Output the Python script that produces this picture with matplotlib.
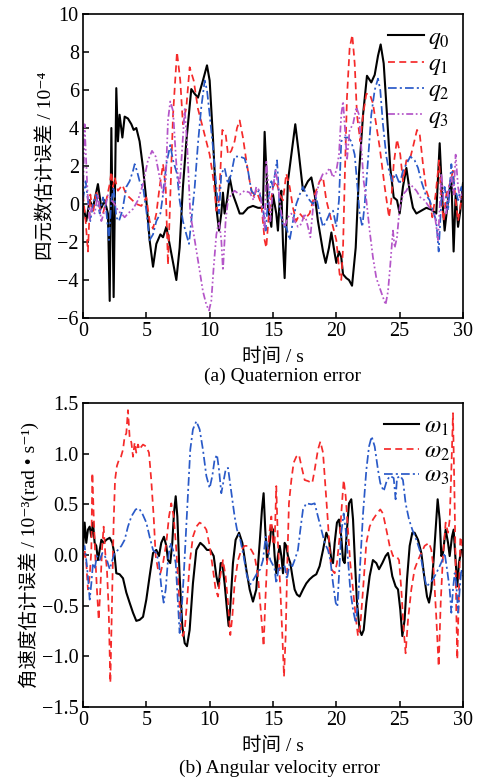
import matplotlib
matplotlib.use('Agg')
import matplotlib.pyplot as plt

plt.rcParams['font.family'] = ['Liberation Serif', 'Noto Sans CJK SC', 'DejaVu Serif']
plt.rcParams['mathtext.fontset'] = 'stix'
plt.rcParams['axes.unicode_minus'] = True

# ---- quaternion error (x1e-4) ----
q0_t = [0, 0.26, 0.53, 0.79, 1.18, 1.45, 1.71, 1.97, 2.11, 2.24, 2.42, 2.63, 2.76, 2.89, 3.11, 3.29, 3.55, 3.82, 4.0, 4.21,
        4.47, 4.74, 5.0, 5.26, 5.53, 5.79, 6.11, 6.32, 6.58, 6.89, 7.37, 7.63, 7.89, 8.16, 8.55, 8.82, 9.08, 9.47, 9.79, 10.0,
        10.26, 10.53, 10.74, 10.92, 11.05, 11.18, 11.37, 11.58, 11.84, 12.11, 12.37, 12.63, 13.03, 13.42, 13.82, 14.21, 14.34,
        14.61, 14.87, 15.0, 15.26, 15.39, 15.53, 15.66, 15.79, 15.92, 16.18, 16.45, 16.76, 17.05, 17.37, 17.76, 18.03, 18.29,
        18.55, 18.95, 19.16, 19.42, 19.61, 19.87, 20.0, 20.21, 20.39, 20.53, 20.79, 21.0, 21.24, 21.53, 21.79, 22.11, 22.42,
        22.76, 23.03, 23.29, 23.5, 23.74, 24.0, 24.26, 24.53, 24.79, 25.0, 25.26, 25.53, 25.79, 26.05, 26.32, 26.71, 27.11,
        27.5, 27.89, 28.16, 28.37, 28.55, 28.82, 29.08, 29.26, 29.42, 29.61, 29.79, 30.0]
q0_v = [0, -0.9, 0.2, -0.2, 1.05, -0.2, 0.2, -0.5, -5.1, 4.0, -4.9, 6.1, 3.3, 4.7, 3.5, 4.6, 4.5, 4.2, 3.9, 4.0,
        3.3, 1.9, 0.2, -1.9, -3.3, -2.1, -1.6, -1.75, -1.2, -2.3, -4.0, -2.3, 0.9, 3.3, 6.05, 5.8, 5.6, 6.5, 7.3, 6.5,
        3.5, -0.2, -1.4, -0.5, 0.6, -0.5, 0.2, 1.4, 0.5, 0, -0.5, -0.5, -0.2, -0.1, -0.2, -0.2, 3.8,
        -0.2, -1.2, 0.5, -0.5, -1.4, 0.2, 0.7, -2.1, -3.9, 1.2, 2.6, 4.2, 2.6, 0.7, 1.2, 1.4, 0.5,
        -0.9, -2.5, -3.1, -2.3, -1.5, -2.6, -3.1, -2.5, -2.8, -3.7, -3.9, -4.0, -4.3, -2.3, 1.6, 4.7, 6.75,
        6.4, 6.8, 7.8, 8.4, 7.4, 4.7, 1.9, 0.35, 0.2, -0.5, 0.9, 1.9, 0.7, -0.2, -0.5, -0.35, -0.2,
        -0.3, -0.5, 3.2, 0.2, -1.4, 0.2, 1.4, -2.5, 0.5, -1.2, -0.35, 1.1]

q1_t = [0, 0.21, 0.39, 0.58, 0.79, 1.05, 1.32, 1.58, 1.84, 2.11, 2.24, 2.37, 2.5, 2.76, 3.11, 3.42, 3.82, 4.21, 4.61, 5.0,
        5.26, 5.53, 5.79, 6.05, 6.32, 6.53, 6.71, 6.89, 7.11, 7.42, 7.68, 7.89, 8.16, 8.42, 8.74, 9.08, 9.47, 10.0, 10.32,
        10.53, 10.74, 11.0, 11.26, 11.45, 11.71, 11.97, 12.16, 12.37, 12.63, 12.89, 13.16, 13.42, 13.68, 14.08, 14.34, 14.47,
        14.68, 15.0, 15.26, 15.53, 15.79, 16.05, 16.32, 16.58, 16.84, 17.11, 17.5, 17.89, 18.29, 18.68, 18.95, 19.21, 19.47,
        19.74, 20.0, 20.26, 20.39, 20.53, 20.66, 20.84, 21.05, 21.26, 21.45, 21.63, 21.89, 22.11, 22.37, 22.63, 22.89, 23.21,
        23.42, 23.82, 24.16, 24.34, 24.53, 24.79, 25.05, 25.26, 25.53, 25.79, 26.05, 26.37, 26.58, 26.84, 27.11, 27.37, 27.58,
        27.84, 28.11, 28.29, 28.47, 28.68, 28.95, 29.21, 29.42, 29.61, 29.87, 30.0]
q1_v = [0.5, -0.9, -2.5, 0.5, -0.5, 0.7, -0.2, -0.5, 0.2, 1.05, 1.7, 0.9, 1.4, 0.7, 1.0, 0.5, 0.25, 0, -0.1, 0.35,
        -0.9, -1.3, -0.5, 0.9, 2.1, 0.9, -3.2, 0.35, 4.7, 8.0, 6.5, 4.2, 5.1, 7.2, 6.5, 5.0, 4.0, 2.6, 1.2,
        -0.35, 0.2, 3.9, 3.7, 2.6, 2.8, 3.3, 4.0, 4.4, 3.5, 2.3, 1.2, 0.35, 0.7, 0, -1.9, -2.3,
        -0.5, 0.9, 1.2, 0.5, 0.2, 1.6, 0.9, -0.2, -0.9, -0.5, -0.8, -0.5, 0.5, 1.2, 1.4, 0.2, -0.5,
        -1.2, -1.9, -3.7, -4.0, -2.3, 1.2, 5.6, 8.2, 8.9, 7.4, 4.7, 3.3, 4.7, 5.8, 5.8, 5.3, 3.9,
        3.0, 0.9, -0.7, 0.2, 2.1, 3.4, 2.6, 1.2, 2.3, 2.3, 3.0, 3.9, 3.7, 2.1, 0.7, 0.2, -0.7,
        0.5, 2.3, 0.2, -0.9, 0.5, 1.05, 1.75, 0.2, -0.9, 0.2, 0.5]

q2_t = [0, 0.21, 0.39, 0.58, 0.79, 1.05, 1.32, 1.58, 1.84, 2.05, 2.24, 2.42, 2.63, 2.84, 3.11, 3.42, 3.68, 3.95, 4.08, 4.26,
        4.47, 4.74, 5.0, 5.26, 5.53, 5.79, 6.11, 6.32, 6.58, 6.89, 7.11, 7.42, 7.63, 7.89, 8.16, 8.37, 8.55, 8.82, 9.08, 9.34,
        9.61, 9.79, 10.0, 10.26, 10.53, 10.74, 10.92, 11.18, 11.45, 11.71, 11.97, 12.37, 12.76, 13.03, 13.29, 13.55, 13.89,
        14.21, 14.42, 14.61, 14.87, 15.0, 15.32, 15.53, 15.79, 16.05, 16.32, 16.58, 16.84, 17.11, 17.37, 17.63, 17.89, 18.16,
        18.42, 18.68, 18.95, 19.21, 19.47, 19.74, 20.0, 20.21, 20.39, 20.66, 20.92, 21.18, 21.45, 21.63, 21.84, 22.05, 22.24,
        22.5, 22.76, 23.03, 23.29, 23.47, 23.68, 23.95, 24.16, 24.42, 24.68, 25.0, 25.26, 25.53, 25.84, 26.18, 26.45, 26.71,
        27.05, 27.37, 27.63, 27.89, 28.08, 28.29, 28.55, 28.82, 29.08, 29.34, 29.61, 29.87, 30.0]
q2_v = [0.2, 1.2, 0.2, -0.9, 0, 0.5, -0.5, 0.35, -0.35, -1.9, 0.2, 0.9, -0.7, -0.9, -0.35, 0.9, 1.2, 1.75, 2.1, 1.75,
        1.2, 0.9, -0.35, -1.9, -1.6, -0.9, -0.5, 0.5, 2.1, 3.1, 2.3, 1.6, 0.2, -0.9, -1.6, -2.1, -0.9, 0.9, 3.2, 5.1,
        6.5, 6.0, 4.7, 3.0, 0.9, -0.5, 1.6, 1.9, 1.05, 1.6, 2.5, 2.5, 2.4, 1.75, 0.7, 0.5, 0.7,
        -0.2, -1.4, 0.2, 1.2, 0.9, 2.3, -0.2, -1.2, -1.2, -1.9, -0.9, 0, 0.5, 0.9, 0.5, 0.2, 0,
        0.35, -0.5, -1.2, -0.9, -0.5, -0.35, -1.2, 0.2, 3.3, 3.5, 3.5, 3.3, 2.6, 1.2, -0.5, -1.2, 0,
        2.3, 4.7, 6.0, 6.6, 6.0, 4.2, 2.5, 1.75, 1.2, 1.6, 1.05, 1.75, 2.1, 2.5, 2.3, 1.9, 1.2,
        0.5, 0.2, -0.35, -0.9, -2.5, 0.2, 0.9, -0.35, 2.1, 0.9, 0.2, 0.9, 0.5]

q3_t = [0, 0.13, 0.26, 0.39, 0.53, 0.66, 0.92, 1.18, 1.45, 1.71, 1.97, 2.24, 2.5, 2.76, 3.03, 3.29, 3.55, 3.95, 4.34, 4.74,
        5.13, 5.45, 5.74, 6.05, 6.32, 6.53, 6.71, 6.89, 7.11, 7.37, 7.63, 7.84, 8.03, 8.21, 8.47, 8.82, 9.16, 9.47, 9.74, 9.95,
        10.13, 10.32, 10.53, 10.74, 10.92, 11.05, 11.26, 11.45, 11.71, 11.97, 12.37, 12.76, 13.16, 13.47, 13.68, 13.95, 14.21,
        14.34, 14.47, 14.61, 14.79, 15.0, 15.21, 15.39, 15.66, 15.92, 16.18, 16.45, 16.71, 16.97, 17.24, 17.5, 17.76, 17.95,
        18.16, 18.42, 18.68, 18.95, 19.21, 19.47, 19.74, 20.0, 20.21, 20.39, 20.53, 20.66, 20.84, 21.05, 21.32, 21.58, 21.79,
        21.97, 22.16, 22.37, 22.63, 22.89, 23.16, 23.42, 23.68, 23.89, 24.08, 24.26, 24.47, 24.61, 24.79, 25.0, 25.26, 25.53,
        25.79, 26.05, 26.32, 26.63, 26.97, 27.37, 27.76, 28.03, 28.16, 28.29, 28.47, 28.68, 28.89, 29.08, 29.26, 29.42, 29.61,
        29.79, 30.0]
q3_v = [0.2, 4.2, 2.1, 0.2, -0.9, -0.2, -0.5, 0.5, -0.9, -0.35, 0.5, 0.2, 0, -0.35, -0.5, -0.7, -0.5, -0.26, 0.2, 1.05,
        2.3, 2.8, 2.5, 1.4, 0.5, 1.2, 4.4, 5.4, 4.9, 2.1, 0.9, 3.0, 5.0, 3.3, -0.5, -1.9, -3.3, -4.6, -5.3, -5.6,
        -5.1, -3.3, -1.6, -0.9, -1.9, -3.5, -0.9, 0.2, 0.5, 0.7, 0.5, 0.7, 0.6, 0.2, 0.9, 0.7, -0.5,
        -1.4, 2.3, 1.2, -0.9, 0.9, 1.75, 1.05, -0.5, -1.2, -0.7, -0.5, -0.9, -1.2, -1.05, -0.5, -1.2, -1.75,
        -0.2, 0.5, 1.2, 1.6, 1.6, 1.9, 1.4, 1.75, 2.6, 4.7, 5.4, 4.2, 2.3, 3.9, 4.2, 5.1, 4.7,
        3.0, 1.2, 0.2, -1.4, -2.8, -3.9, -4.4, -4.9, -5.3, -4.6, -3.2, -1.4, -2.3, -1.75, -0.2, 0.5, 0.7,
        1.05, 0.9, 0.7, 0.35, 0.2, -0.2, -0.5, -1.9, -0.2, 1.6, 0.2, -0.5, 0.9, 1.4, 0.5, 2.6, 0.9,
        0.2, 0.7]

# ---- angular velocity error (x1e-3 rad/s) ----
w1_t = [0, 0.13, 0.26, 0.39, 0.53, 0.66, 0.79, 0.92, 1.05, 1.18, 1.32, 1.45, 1.63, 1.84, 2.11, 2.32, 2.5, 2.63, 2.89, 3.16,
        3.42, 3.68, 3.95, 4.21, 4.47, 4.74, 5.0, 5.26, 5.53, 5.79, 6.0, 6.18, 6.39, 6.58, 6.71, 6.89, 7.05, 7.18, 7.32, 7.45,
        7.63, 7.84, 8.03, 8.21, 8.42, 8.68, 8.95, 9.26, 9.53, 9.79, 10.05, 10.32, 10.53, 10.71, 10.87, 11.0, 11.18, 11.37, 11.5,
        11.63, 11.84, 12.05, 12.32, 12.58, 12.89, 13.16, 13.42, 13.68, 13.95, 14.13, 14.26, 14.39, 14.53, 14.74, 14.87, 15.0,
        15.13, 15.26, 15.39, 15.53, 15.66, 15.79, 15.92, 16.05, 16.18, 16.37, 16.53, 16.71, 16.89, 17.1, 17.37, 17.63, 17.89,
        18.16, 18.42, 18.68, 18.95, 19.21, 19.42, 19.61, 19.74, 19.87, 20.05, 20.21, 20.39, 20.53, 20.66, 20.84, 21.0, 21.18,
        21.32, 21.45, 21.63, 21.84, 22.0, 22.16, 22.37, 22.63, 22.89, 23.16, 23.37, 23.63, 23.89, 24.08, 24.21, 24.42, 24.68,
        24.87, 25.05, 25.21, 25.39, 25.58, 25.79, 26.0, 26.18, 26.45, 26.71, 26.97, 27.16, 27.32, 27.5, 27.68, 27.84, 28.0,
        28.16, 28.29, 28.42, 28.63, 28.82, 28.95, 29.13, 29.26, 29.42, 29.55, 29.68, 29.87, 30.0]
w1_v = [0.05, 0.32, 0.12, 0.25, 0.28, 0.18, 0.32, 0.12, 0.09, -0.05, 0.05, 0.15, 0.12, 0.15, 0.17, 0.12, -0.01, -0.18, -0.19, -0.23,
        -0.37, -0.47, -0.57, -0.65, -0.64, -0.61, -0.44, -0.21, 0.02, 0.05, -0.01, 0.12, 0.18, 0.09, -0.05, -0.08, 0.12, 0.41, 0.58, 0.38,
        -0.21, -0.7, -0.87, -0.9, -0.74, -0.28, 0.05, 0.12, 0.09, 0.05, 0.05, -0.01, -0.21, -0.31, -0.08, -0.08, -0.28, -0.54, -0.7,
        -0.51, -0.08, 0.15, 0.22, 0.12, -0.14, -0.34, -0.46, -0.34, 0.12, 0.45, 0.61, 0.25, -0.05, 0.12, 0.28, 0.25,
        -0.01, -0.18, -0.01, 0.09, -0.01, -0.18, 0.12, 0.09, -0.01, -0.08, -0.21, -0.34, -0.39, -0.41, -0.34, -0.28, -0.24,
        -0.21, -0.19, -0.11, 0.05, 0.22, 0.15, -0.05, -0.08, 0.12, 0.32, 0.35, 0.18, -0.05, -0.08, 0.25, 0.51, 0.55,
        0.35, -0.01, -0.47, -0.74, -0.79, -0.74, -0.47, -0.21, -0.05, -0.08, -0.14, -0.08, -0.01, 0.02, -0.05, -0.21, -0.31,
        -0.34, -0.54, -0.8, -0.64, -0.24, 0.09, 0.22, 0.22, 0.15, 0.02, -0.24, -0.41, -0.47, -0.34, -0.05, 0.25, 0.55,
        0.35, -0.01, 0.02, 0.25, 0.12, -0.01, 0.18, 0.25, -0.05, -0.31, -0.08, 0.05, 0.05]

w2_t = [0, 0.13, 0.26, 0.39, 0.53, 0.66, 0.74, 0.84, 0.97, 1.1, 1.24, 1.37, 1.5, 1.63, 1.76, 1.89, 2.03, 2.16, 2.29, 2.42,
        2.53, 2.68, 2.84, 3.0, 3.16, 3.29, 3.42, 3.55, 3.68, 3.82, 3.95, 4.08, 4.21, 4.34, 4.47, 4.61, 4.74, 5.0, 5.21, 5.39,
        5.58, 5.74, 5.92, 6.11, 6.32, 6.58, 6.79, 6.97, 7.16, 7.37, 7.58, 7.76, 7.89, 8.03, 8.21, 8.42, 8.68, 8.95, 9.21, 9.47,
        9.74, 10.0, 10.26, 10.47, 10.66, 10.84, 11.05, 11.26, 11.45, 11.63, 11.79, 11.97, 12.24, 12.5, 12.76, 13.03, 13.29,
        13.55, 13.82, 14.08, 14.26, 14.39, 14.53, 14.68, 14.87, 15.0, 15.13, 15.26, 15.39, 15.58, 15.74, 15.87, 16.0, 16.13,
        16.26, 16.45, 16.63, 16.84, 17.05, 17.24, 17.5, 17.76, 18.1, 18.29, 18.55, 18.74, 18.95, 19.16, 19.34, 19.47, 19.61,
        19.87, 20.05, 20.26, 20.45, 20.58, 20.74, 20.92, 21.1, 21.32, 21.53, 21.71, 21.89, 22.11, 22.37, 22.63, 22.89, 23.16,
        23.47, 23.68, 23.95, 24.21, 24.47, 24.74, 24.95, 25.13, 25.32, 25.47, 25.66, 25.92, 26.18, 26.45, 26.71, 26.97, 27.32,
        27.5, 27.68, 27.89, 28.08, 28.24, 28.42, 28.63, 28.82, 28.95, 29.08, 29.21, 29.34, 29.47, 29.55, 29.66, 29.79, 29.92,
        30.0]
w2_v = [-0.05, 0.05, -0.08, -0.34, -0.21, 0.05, 0.81, 0.41, -0.01, -0.34, -0.64, -0.34, 0.05, 0.28, 0.02, -0.14, -0.54, -1.26, -0.47, 0.32,
        0.74, 0.88, 0.94, 0.97, 1.04, 1.17, 1.2, 1.43, 1.17, 1.11, 0.97, 1.11, 1.01, 1.09, 1.04, 1.07, 1.09, 1.07, 1.01, 0.74,
        0.38, -0.01, -0.14, -0.18, -0.08, 0.12, 0.38, 0.51, 0.38, 0.05, -0.41, -0.77, -0.8, -0.74, -0.47, -0.08, 0.18, 0.28, 0.32, 0.3,
        0.25, 0.09, -0.14, -0.34, -0.41, -0.21, -0.05, -0.21, -0.47, -0.79, -0.61, -0.28, -0.05, 0.05, 0.09, 0.09, 0.05,
        -0.01, -0.21, -0.61, -0.9, -0.47, -0.08, 0.18, 0.38, 0.1, 0.12, 0.68, 0.12, -0.34, -0.8, -1.2, -0.8, -0.08,
        0.51, 0.74, 0.91, 0.97, 0.99, 0.88, 0.74, 0.73, 0.71, 0.84, 1.04, 1.12, 1.01, 0.64, 0.32, 0.05, -0.14,
        -0.18, -0.08, 0.18, 0.51, 0.74, 0.58, 0.25, -0.08, -0.34, -0.61, -0.8, -0.7, -0.34, 0.12, 0.28, 0.35, 0.4,
        0.45, 0.41, 0.25, 0.09, -0.01, -0.01, -0.05, -0.34, -0.74, -0.97, -0.64, -0.34, -0.14, -0.05, 0.02, 0.09, 0.12,
        0.05, -0.14, -0.61, -1.1, -0.47, -0.01, 0.32, 0.22, 0.35, 0.84, 1.4, 0.51, -0.54, -1.03, -0.47, 0.18, 0.12,
        -0.05]

w3_t = [0, 0.13, 0.26, 0.39, 0.53, 0.66, 0.79, 0.92, 1.1, 1.32, 1.53, 1.71, 1.89, 2.11, 2.32, 2.5, 2.76, 3.03, 3.29, 3.55,
        3.82, 4.16, 4.42, 4.68, 5.0, 5.26, 5.53, 5.79, 6.0, 6.18, 6.37, 6.53, 6.71, 6.89, 7.11, 7.32, 7.5, 7.63, 7.79, 7.95,
        8.11, 8.29, 8.47, 8.68, 8.95, 9.21, 9.47, 9.74, 10.0, 10.21, 10.39, 10.58, 10.74, 10.92, 11.11, 11.26, 11.45, 11.58,
        11.79, 11.97, 12.16, 12.42, 12.68, 12.95, 13.21, 13.47, 13.74, 14.0, 14.21, 14.42, 14.61, 14.79, 15.0, 15.13, 15.26,
        15.47, 15.66, 15.92, 16.1, 16.32, 16.53, 16.71, 16.97, 17.16, 17.37, 17.63, 18.03, 18.29, 18.55, 18.82, 19.08, 19.34,
        19.53, 19.74, 19.95, 20.08, 20.21, 20.39, 20.58, 20.74, 20.92, 21.1, 21.32, 21.53, 21.71, 21.89, 22.11, 22.37, 22.58,
        22.79, 23.03, 23.29, 23.47, 23.74, 24.0, 24.26, 24.53, 24.68, 24.79, 25.05, 25.26, 25.47, 25.74, 26.0, 26.32, 26.58,
        26.84, 27.11, 27.37, 27.63, 27.89, 28.16, 28.37, 28.55, 28.74, 28.95, 29.08, 29.21, 29.34, 29.47, 29.61, 29.74, 29.87,
        30.0]
w3_v = [0.05, 0.09, -0.05, -0.21, -0.44, -0.28, -0.08, -0.14, -0.01, -0.05, 0.02, -0.01, -0.05, -0.14, -0.05, 0.02, 0.05, 0.09, 0.15, 0.28,
        0.38, 0.45, 0.46, 0.41, 0.32, 0.18, 0.05, 0.02, -0.08, -0.31, -0.47, -0.34, -0.05, 0.12, 0.05, -0.08, -0.47, -0.77, -0.54, -0.21,
        0.18, 0.64, 1.04, 1.24, 1.32, 1.24, 1.04, 0.78, 0.66, 0.78, 0.94, 0.99, 0.84, 0.61, 0.74, 0.84, 0.86, 0.74,
        0.55, 0.38, 0.25, 0.15, -0.01, -0.21, -0.29, -0.24, -0.18, -0.14, -0.05, 0.18, 0.05, -0.05, -0.1, -0.14, -0.28,
        -0.11, -0.14, -0.11, -0.24, -0.08, -0.11, -0.05, 0.05, 0.25, 0.45, 0.51, 0.5, 0.51, 0.38, 0.25, 0.12, 0.05,
        -0.05, -0.28, -0.47, -0.51, -0.21, 0.22, 0.41, 0.25, -0.05, -0.34, -0.54, -0.67, -0.47, -0.08, 0.41, 0.84, 1.07,
        1.17, 1.07, 0.84, 0.71, 0.63, 0.74, 0.78, 0.76, 0.55, 0.76, 0.78, 0.74, 0.51, 0.35, 0.25, 0.15, 0.05,
        -0.14, -0.31, -0.28, -0.24, -0.18, -0.11, -0.05, 0.02, -0.14, -0.34, -0.57, -0.34, -0.18, -0.28, -0.57, -0.34, -0.14,
        -0.21]

RED = '#f52a2a'
BLUE = '#2a5ac8'
PURPLE = '#b455c8'
CJK = ['Liberation Serif', 'Noto Sans CJK SC', 'DejaVu Serif']

fig = plt.figure(figsize=(4.78, 7.8), dpi=100)
ax1 = fig.add_axes([0.1736, 0.5923, 0.795, 0.3897])
ax2 = fig.add_axes([0.1736, 0.0936, 0.795, 0.3897])

lw = 1.25
ax1.plot(q0_t, q0_v, color='black', lw=1.5, label=r'$q_0$')
ax1.plot(q1_t, q1_v, color=RED, lw=lw, dashes=(4, 2.5), label=r'$q_1$')
ax1.plot(q2_t, q2_v, color=BLUE, lw=lw, dashes=(5, 1.8, 1.2, 1.8), label=r'$q_2$')
ax1.plot(q3_t, q3_v, color=PURPLE, lw=lw, dashes=(4, 1.5, 1, 1.5, 1, 1.5), label=r'$q_3$')

ax2.plot(w1_t, w1_v, color='black', lw=1.5, label=r'$\omega_1$')
ax2.plot(w2_t, w2_v, color=RED, lw=lw, dashes=(4, 2.5), label=r'$\omega_2$')
ax2.plot(w3_t, w3_v, color=BLUE, lw=lw, dashes=(5, 1.8, 1.2, 1.8), label=r'$\omega_3$')

ax1.set_xlim(0, 30)
ax1.set_ylim(-6, 10)
ax1.set_yticks([-6, -4, -2, 0, 2, 4, 6, 8, 10])
ax2.set_xlim(0, 30)
ax2.set_ylim(-1.5, 1.5)
ax2.set_yticks([-1.5, -1.0, -0.5, 0.0, 0.5, 1.0, 1.5])
ax2.set_yticklabels(['\u22121.5', '\u22121.0', '\u22120.5', '0.0', '0.5', '1.0', '1.5'])

for ax in (ax1, ax2):
    ax.set_xticks([0, 5, 10, 15, 20, 25, 30])
    ax.tick_params(direction='in', length=4, width=1.1, labelsize=14.5, top=False, right=False, pad=3)
    for s in ax.spines.values():
        s.set_linewidth(1.2)
    for lab in ax.get_xticklabels() + ax.get_yticklabels():
        lab.set_family(CJK)
    ax.set_xlabel('时间 / s', family=CJK, fontsize=14, labelpad=5)
    ax.legend(loc='upper right', frameon=False, fontsize=17, handlelength=1.5,
              labelspacing=0.12, handletextpad=0.2, borderaxespad=0.15)

ax1.set_ylabel('四元数估计误差 / 10\u207b\u2074', family=CJK, fontsize=14, labelpad=2)
ax2.set_ylabel('角速度估计误差 / 10\u207b\u00b3(rad \u2022 s\u207b\u00b9)', family=CJK, fontsize=14, labelpad=2)

fig.text(0.59, 0.517, '(a) Quaternion error', ha='center', va='center', fontsize=14, family=CJK)
fig.text(0.585, 0.015, '(b) Angular velocity error', ha='center', va='center', fontsize=14, family=CJK)

fig.savefig('out.png', dpi=100)
